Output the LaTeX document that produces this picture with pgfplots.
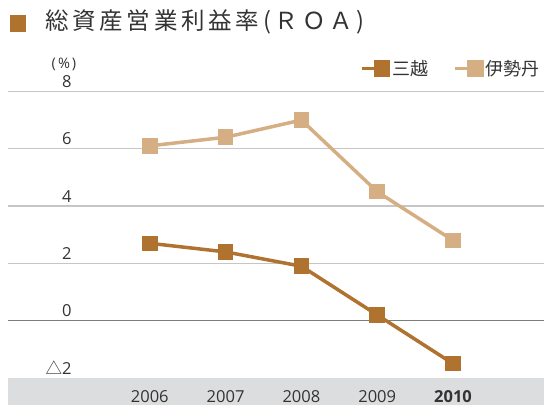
\documentclass[border=0pt]{standalone}
\usepackage{fontspec}
\setmainfont{Open Sans}
\newfontfamily\jp{Noto Sans CJK JP}
\newfontfamily\jptitle[LetterSpace=16]{Noto Sans CJK JP}
\usepackage{pgfplots}
\pgfplotsset{compat=1.18}
\definecolor{mitsu}{HTML}{B0722F}
\definecolor{isetan}{HTML}{D5AE83}
\definecolor{bandgray}{HTML}{DCDDDF}
\definecolor{gridgray}{HTML}{C6C6C6}
\definecolor{zerogray}{HTML}{7D7D7D}
\definecolor{textgray}{HTML}{333333}

\begin{document}
\begin{tikzpicture}[x=1pt,y=1pt]
  \path[use as bounding box] (0,0) rectangle (544,405);
  % title and gray band under the years
  \fill[mitsu] (10,373) rectangle (26,390);
  \node[anchor=west, inner sep=0pt, text=textgray, font=\jptitle\fontsize{23.5}{25}\selectfont]
    at (45,383) {総資産営業利益率(ＲＯＡ)};
  \node[inner sep=0pt, text=textgray, font=\fontsize{14.5}{16}\selectfont]
    at (64,341) {(\kern2pt\%\kern2pt)};
  \fill[bandgray] (8,0) rectangle (544,27);
  \begin{axis}[
    at={(8pt,27pt)}, anchor=south west,
    scale only axis,
    width=536pt, height=286.6pt,
    xmin=2004.13, xmax=2011.2,
    ymin=-2, ymax=8,
    clip=false,
    axis line style={draw=none},
    major tick length=0pt,
    xtick={2006,2007,2008,2009,2010},
    xticklabels={2006,2007,2008,2009,\textbf{2010}},
    ytick={0,2,4,6,8},
    yticklabels={0,2,4,6,8},
    extra y ticks={-2},
    extra y tick labels={{\jp △}2},
    extra y tick style={grid=none},
    ymajorgrids,
    grid style={gridgray, line width=1.2pt},
    tick label style={text=textgray, font=\fontsize{16.5}{18}\selectfont},
    yticklabel style={anchor=base east, xshift=67pt, yshift=4pt},
    xticklabel style={anchor=base, yshift=-24.5pt},
    legend columns=2,
    legend style={at={(352pt,309.5pt)}, anchor=west, draw=none, fill=none,
      font=\jp\fontsize{18}{20}\selectfont, text=textgray,
      inner sep=0pt, /tikz/every even column/.append style={column sep=23pt}},
    legend cell align=left,
  ]
    \draw[zerogray, line width=1.4pt] (rel axis cs:0,0.2) -- (rel axis cs:1,0.2);

    \addplot[mitsu, line width=3.5pt, mark=square*, mark size=6pt,
      mark options={solid},
      legend image code/.code={
        \draw[mitsu, line width=3pt] (0pt,0pt) -- (14pt,0pt);
        \fill[mitsu] (14pt,-6.5pt) rectangle (27pt,6.5pt);}]
      coordinates {(2006,2.7) (2007,2.4) (2008,1.9) (2009,0.2) (2010,-1.5)};
    \addlegendentry{三越}

    \addplot[isetan, line width=3.5pt, mark=square*, mark size=6pt,
      mark options={solid},
      legend image code/.code={
        \draw[isetan, line width=3pt] (0pt,0pt) -- (14pt,0pt);
        \fill[isetan] (14pt,-6.5pt) rectangle (27pt,6.5pt);}]
      coordinates {(2006,6.1) (2007,6.4) (2008,7.0) (2009,4.5) (2010,2.8)};
    \addlegendentry{伊勢丹}
  \end{axis}
\end{tikzpicture}
\end{document}
